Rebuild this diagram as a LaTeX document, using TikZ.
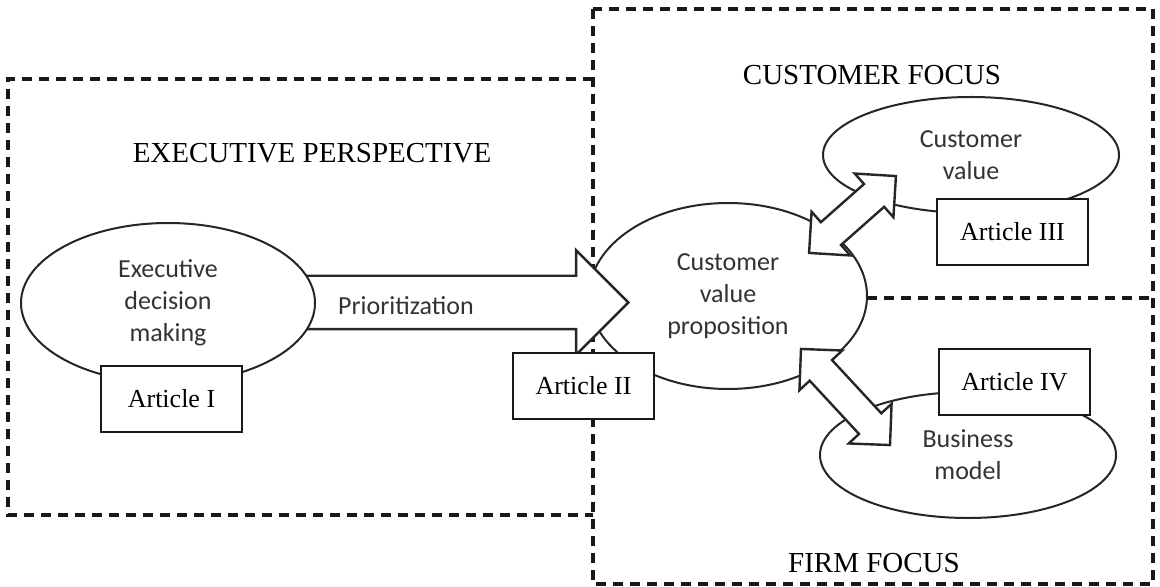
\documentclass[tikz,border=0pt]{standalone}
\usepackage{fontspec}
\setmainfont{Liberation Serif}
\newfontfamily\calibri{Carlito}
\usetikzlibrary{shapes.geometric,shapes.arrows,calc}

\begin{document}
\begin{tikzpicture}[x=0.5pt,y=-0.5pt,
    region/.style={draw=black!90, line width=1.6pt, dash pattern=on 5pt off 3.5pt},
    bubble/.style={shape=ellipse, draw=black!85, line width=1pt, fill=white, inner sep=0pt,
      align=center, text=black!80, font=\calibri\fontsize{13}{16}\selectfont},
    article/.style={shape=rectangle, draw=black!90, line width=1.2pt, fill=white,
      minimum height=33pt, font=\fontsize{13}{16}\selectfont},
    blockarrow/.style={shape=double arrow, draw=black!85, line width=1.2pt, fill=white,
      inner xsep=0pt, inner ysep=7pt, double arrow head extend=7pt, double arrow tip angle=90},
    heading/.style={font=\fontsize{14.5}{17}\selectfont}]
      \useasboundingbox (0,0) rectangle (1160,587);

      % dashed regions
      \draw[region] (593,79) -- (8,79) -- (8,515) -- (593,515);
      \draw[region] (593,9) rectangle (1153,584);
      \draw[region] (867,298) -- (1153,298);

      \node[heading] (exectitle) at (312,153) {EXECUTIVE PERSPECTIVE};
      \node[heading] (custtitle) at (872,75) {CUSTOMER FOCUS};
      \node[heading] (firmtitle) at (874,563) {FIRM FOCUS};

      \node[bubble, minimum width=139pt, minimum height=93pt] (cvp) at (728,296) {Customer\\value\\proposition};

      \node[shape=single arrow, draw=black!85, line width=1.2pt, fill=white, inner xsep=0pt,
        inner ysep=12.75pt, single arrow head extend=12.75pt, single arrow tip angle=90,
        minimum height=182.5pt] (prio) at (432.5,302.5) {};
      \node[text=black!80, font=\calibri\fontsize{13}{16}\selectfont] (priotext) at (406,306) {Prioritization};

      \node[bubble, minimum width=147pt, minimum height=80pt] (exec) at (168,303) {Executive\\decision\\making};
      \node[bubble, minimum width=148pt, minimum height=58pt] (custval) at (971,155) {Customer\\value};
      \node[bubble, minimum width=148pt, minimum height=63pt] (busmod) at (968,455) {Business\\model};

      \coordinate (up1) at (809,253);
      \coordinate (up2) at (896,176);
      \coordinate (lo1) at (801,349);
      \coordinate (lo2) at (890,445);
      \node[blockarrow, minimum height=58pt, rotate=41.5] (dbl1) at ($(up1)!0.5!(up2)$) {};
      \node[blockarrow, minimum height=65.5pt, rotate=-47.2] (dbl2) at ($(lo1)!0.5!(lo2)$) {};

      \node[article, minimum width=70.5pt] (art1) at (171.5,399) {Article I};
      \node[article, minimum width=70.5pt] (art2) at (583.5,386) {Article II};
      \node[article, minimum width=75.5pt] (art3) at (1012.5,232) {Article III};
      \node[article, minimum width=75.5pt] (art4) at (1014.5,382) {Article IV};
    \end{tikzpicture}
\end{document}
